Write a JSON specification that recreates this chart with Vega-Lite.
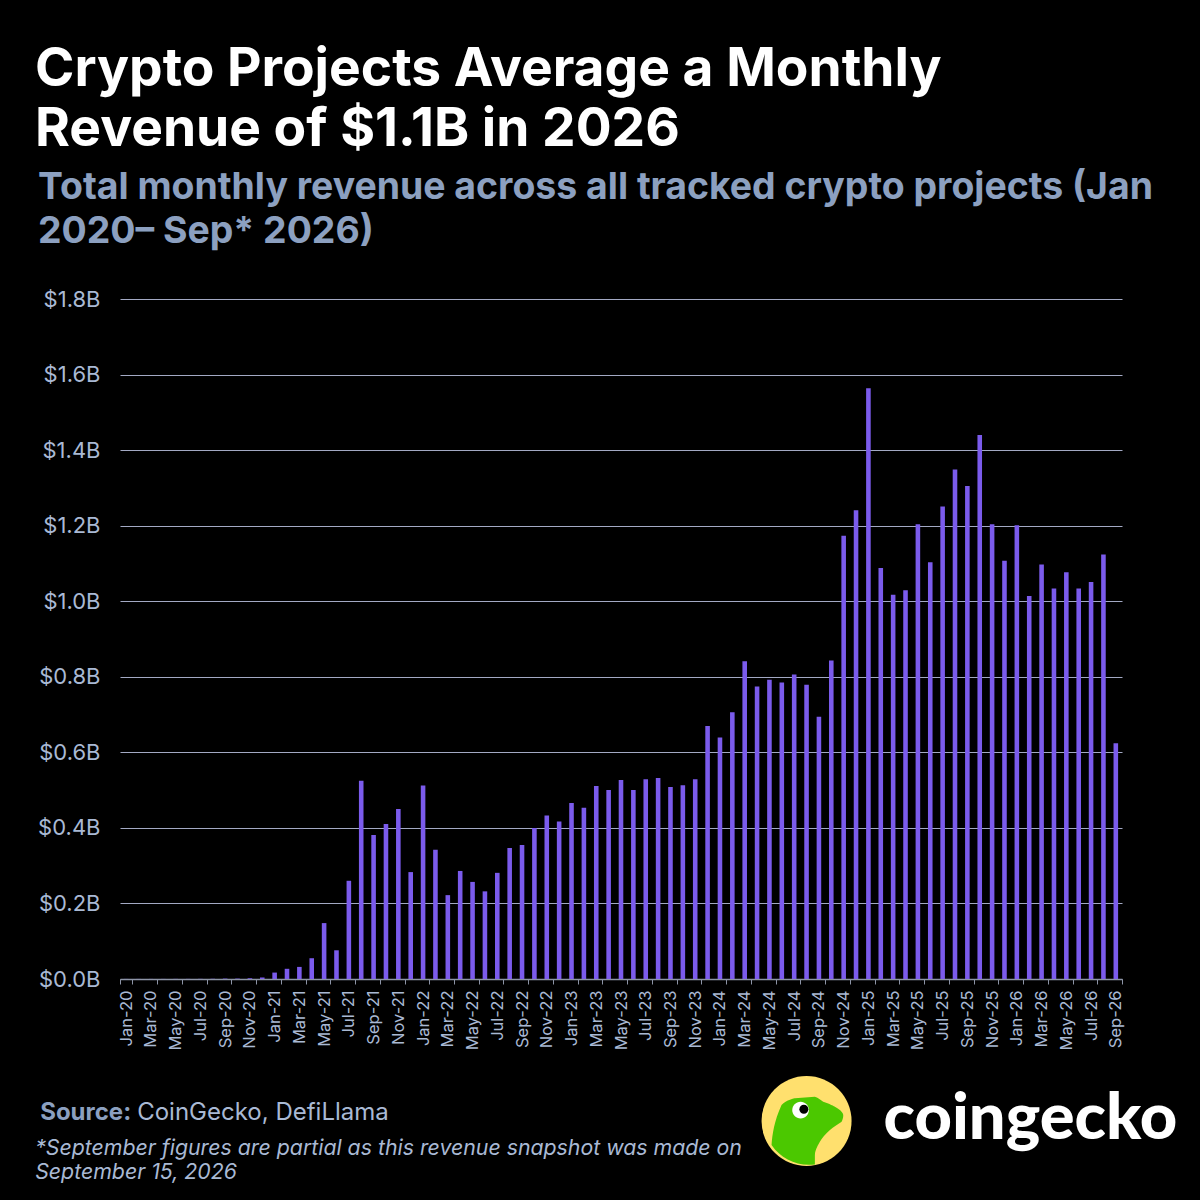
{
  "$schema": "https://vega.github.io/schema/vega-lite/v6.json",
  "width": 1002,
  "height": 680,
  "autosize": "none",
  "padding": {"left": 120, "top": 299, "right": 78, "bottom": 221},
  "background": "#000000",
  "title": {
    "text": ["Crypto Projects Average a Monthly", "Revenue of $1.1B in 2026"],
    "subtitle": ["\u200c\u200aTotal monthly revenue across all tracked crypto projects (Jan", "\u200c\u200a2020– Sep* 2026)"],
    "anchor": "start",
    "frame": "group",
    "dx": -85,
    "offset": 37,
    "font": "Inter",
    "fontSize": 53.3,
    "fontWeight": 700,
    "lineHeight": 60,
    "color": "#ffffff",
    "subtitleFont": "Inter",
    "subtitleFontSize": 37.4,
    "subtitleFontWeight": 700,
    "subtitleLineHeight": 44,
    "subtitleColor": "#8ca0c0",
    "subtitlePadding": 11
  },
  "config": {"view": {"stroke": null}},
  "data": {
    "values": [
      {"month": "Jan-20", "revenue": 0.0002}, {"month": "Feb-20", "revenue": 0.0002}, {"month": "Mar-20", "revenue": 0.0002},
      {"month": "Apr-20", "revenue": 0.0002}, {"month": "May-20", "revenue": 0.0003}, {"month": "Jun-20", "revenue": 0.0003},
      {"month": "Jul-20", "revenue": 0.0004}, {"month": "Aug-20", "revenue": 0.0005}, {"month": "Sep-20", "revenue": 0.001},
      {"month": "Oct-20", "revenue": 0.001}, {"month": "Nov-20", "revenue": 0.002}, {"month": "Dec-20", "revenue": 0.004},
      {"month": "Jan-21", "revenue": 0.017}, {"month": "Feb-21", "revenue": 0.027}, {"month": "Mar-21", "revenue": 0.032},
      {"month": "Apr-21", "revenue": 0.055}, {"month": "May-21", "revenue": 0.148}, {"month": "Jun-21", "revenue": 0.076},
      {"month": "Jul-21", "revenue": 0.26}, {"month": "Aug-21", "revenue": 0.525}, {"month": "Sep-21", "revenue": 0.381},
      {"month": "Oct-21", "revenue": 0.41}, {"month": "Nov-21", "revenue": 0.45}, {"month": "Dec-21", "revenue": 0.283},
      {"month": "Jan-22", "revenue": 0.512}, {"month": "Feb-22", "revenue": 0.342}, {"month": "Mar-22", "revenue": 0.222},
      {"month": "Apr-22", "revenue": 0.286}, {"month": "May-22", "revenue": 0.257}, {"month": "Jun-22", "revenue": 0.232},
      {"month": "Jul-22", "revenue": 0.281}, {"month": "Aug-22", "revenue": 0.347}, {"month": "Sep-22", "revenue": 0.355},
      {"month": "Oct-22", "revenue": 0.4}, {"month": "Nov-22", "revenue": 0.433}, {"month": "Dec-22", "revenue": 0.417},
      {"month": "Jan-23", "revenue": 0.466}, {"month": "Feb-23", "revenue": 0.453}, {"month": "Mar-23", "revenue": 0.511},
      {"month": "Apr-23", "revenue": 0.5}, {"month": "May-23", "revenue": 0.527}, {"month": "Jun-23", "revenue": 0.5},
      {"month": "Jul-23", "revenue": 0.529}, {"month": "Aug-23", "revenue": 0.532}, {"month": "Sep-23", "revenue": 0.508},
      {"month": "Oct-23", "revenue": 0.513}, {"month": "Nov-23", "revenue": 0.529}, {"month": "Dec-23", "revenue": 0.67},
      {"month": "Jan-24", "revenue": 0.639}, {"month": "Feb-24", "revenue": 0.706}, {"month": "Mar-24", "revenue": 0.841},
      {"month": "Apr-24", "revenue": 0.774}, {"month": "May-24", "revenue": 0.792}, {"month": "Jun-24", "revenue": 0.785},
      {"month": "Jul-24", "revenue": 0.806}, {"month": "Aug-24", "revenue": 0.779}, {"month": "Sep-24", "revenue": 0.694},
      {"month": "Oct-24", "revenue": 0.843}, {"month": "Nov-24", "revenue": 1.173}, {"month": "Dec-24", "revenue": 1.241},
      {"month": "Jan-25", "revenue": 1.564}, {"month": "Feb-25", "revenue": 1.088}, {"month": "Mar-25", "revenue": 1.017},
      {"month": "Apr-25", "revenue": 1.029}, {"month": "May-25", "revenue": 1.204}, {"month": "Jun-25", "revenue": 1.103},
      {"month": "Jul-25", "revenue": 1.251}, {"month": "Aug-25", "revenue": 1.349}, {"month": "Sep-25", "revenue": 1.305},
      {"month": "Oct-25", "revenue": 1.44}, {"month": "Nov-25", "revenue": 1.204}, {"month": "Dec-25", "revenue": 1.107},
      {"month": "Jan-26", "revenue": 1.201}, {"month": "Feb-26", "revenue": 1.014}, {"month": "Mar-26", "revenue": 1.097},
      {"month": "Apr-26", "revenue": 1.034}, {"month": "May-26", "revenue": 1.077}, {"month": "Jun-26", "revenue": 1.034},
      {"month": "Jul-26", "revenue": 1.051}, {"month": "Aug-26", "revenue": 1.124}, {"month": "Sep-26", "revenue": 0.624}
    ]
  },
  "layer": [
    {
      "mark": {"type": "bar", "color": "#7b5bec", "width": {"band": 0.37}},
      "encoding": {
        "x": {
          "field": "month",
          "type": "ordinal",
          "sort": null,
          "title": null,
          "scale": {"paddingInner": 0, "paddingOuter": 0},
          "axis": {
            "values": ["Jan-20","Mar-20","May-20","Jul-20","Sep-20","Nov-20","Jan-21","Mar-21","May-21","Jul-21","Sep-21","Nov-21","Jan-22","Mar-22","May-22","Jul-22","Sep-22","Nov-22","Jan-23","Mar-23","May-23","Jul-23","Sep-23","Nov-23","Jan-24","Mar-24","May-24","Jul-24","Sep-24","Nov-24","Jan-25","Mar-25","May-25","Jul-25","Sep-25","Nov-25","Jan-26","Mar-26","May-26","Jul-26","Sep-26"],
            "labelAngle": -90,
            "labelFont": "Inter",
            "labelFontSize": 16.5,
            "labelColor": "#a9b9d4",
            "labelPadding": 6,
            "labelOverlap": false,
            "tickBand": "extent",
            "tickExtra": false,
            "tickColor": "#8d94a6",
            "tickSize": 5,
            "domainColor": "#8d94a6",
            "domainWidth": 1.5,
            "grid": false
          }
        },
        "y": {
          "field": "revenue",
          "type": "quantitative",
          "title": null,
          "scale": {"domain": [0, 1.8], "nice": false},
          "axis": {
            "values": [0, 0.2, 0.4, 0.6, 0.8, 1, 1.2, 1.4, 1.6, 1.8],
            "labelExpr": "'$' + format(datum.value, '.1f') + 'B'",
            "labelFont": "Inter",
            "labelFontSize": 22,
            "labelColor": "#a9b9d4",
            "labelPadding": 20,
            "ticks": false,
            "domain": false,
            "grid": true,
            "gridColor": "#a3a9c4",
            "gridWidth": 1,
            "zindex": 0
          }
        }
      }
    },
    {
      "data": {"values": [{"note": "Source:"}]},
      "mark": {"type": "text", "align": "left", "baseline": "middle", "font": "Inter", "fontSize": 24, "fontWeight": 700, "color": "#8ca0c0", "dx": -86},
      "encoding": {"text": {"field": "note"}, "x": {"datum": "Jan-20"}, "y": {"datum": -0.354}}
    },
    {
      "data": {"values": [{"note": "CoinGecko, DefiLlama"}]},
      "mark": {"type": "text", "align": "left", "baseline": "middle", "font": "Inter", "fontSize": 24, "color": "#a9b9d4", "dx": 11},
      "encoding": {"text": {"field": "note"}, "x": {"datum": "Jan-20"}, "y": {"datum": -0.354}}
    },
    {
      "data": {"values": [{"note": "*September figures are partial as this revenue snapshot was made on"}]},
      "mark": {"type": "text", "align": "left", "baseline": "middle", "font": "Inter", "fontSize": 21.3, "fontStyle": "italic", "color": "#a9b9d4", "dx": -91},
      "encoding": {"text": {"field": "note"}, "x": {"datum": "Jan-20"}, "y": {"datum": -0.449}}
    },
    {
      "data": {"values": [{"note": "September 15, 2026"}]},
      "mark": {"type": "text", "align": "left", "baseline": "middle", "font": "Inter", "fontSize": 21.3, "fontStyle": "italic", "color": "#a9b9d4", "dx": -91},
      "encoding": {"text": {"field": "note"}, "x": {"datum": "Jan-20"}, "y": {"datum": -0.5135}}
    },
    {
      "data": {"values": [{"logo": "disc"}]},
      "mark": {"type": "point", "shape": "circle", "filled": true, "size": 8100, "color": "#ffe06e", "opacity": 1},
      "encoding": {"x": {"datum": "Aug-24"}, "y": {"datum": -0.376}}
    },
    {
      "data": {"values": [{"logo": "gecko"}]},
      "mark": {"type": "point", "shape": "M-0.556,-0.356C-0.45,-0.47 -0.259,-0.504 -0.259,-0.504L0.185,-0.541C0.27,-0.52 0.3,-0.47 0.37,-0.43C0.5,-0.39 0.63,-0.32 0.63,-0.32C0.73,-0.26 0.815,-0.2 0.815,-0.133C0.82,-0.06 0.78,0.015 0.78,0.015C0.69,0.08 0.6,0.12 0.52,0.2C0.42,0.29 0.34,0.38 0.296,0.459C0.22,0.58 0.185,0.68 0.185,0.756L0.185,0.963A1,1 0 0 1 -0.778,0.533C-0.76,0.3 -0.72,0 -0.556,-0.356Z", "filled": true, "size": 8100, "color": "#4bc800", "opacity": 1},
      "encoding": {"x": {"datum": "Aug-24"}, "y": {"datum": -0.376}}
    },
    {
      "data": {"values": [{"logo": "eye"}]},
      "mark": {"type": "point", "shape": "M-0.318,-0.244a0.185,0.185 0 1,0 0.37,0a0.185,0.185 0 1,0 -0.37,0Z", "filled": true, "size": 8100, "color": "#ffffff", "opacity": 1},
      "encoding": {"x": {"datum": "Aug-24"}, "y": {"datum": -0.376}}
    },
    {
      "data": {"values": [{"logo": "pupil"}]},
      "mark": {"type": "point", "shape": "M-0.16,-0.26a0.1,0.1 0 1,0 0.2,0a0.1,0.1 0 1,0 -0.2,0Z", "filled": true, "size": 8100, "color": "#000000", "opacity": 1},
      "encoding": {"x": {"datum": "Aug-24"}, "y": {"datum": -0.376}}
    },
    {
      "data": {"values": [{"note": "coingecko"}]},
      "mark": {"type": "text", "align": "left", "baseline": "middle", "font": "Lato", "fontSize": 65, "fontWeight": 900, "color": "#ffffff", "dx": 77},
      "encoding": {"text": {"field": "note"}, "x": {"datum": "Aug-24"}, "y": {"datum": -0.37}}
    }
  ]
}
